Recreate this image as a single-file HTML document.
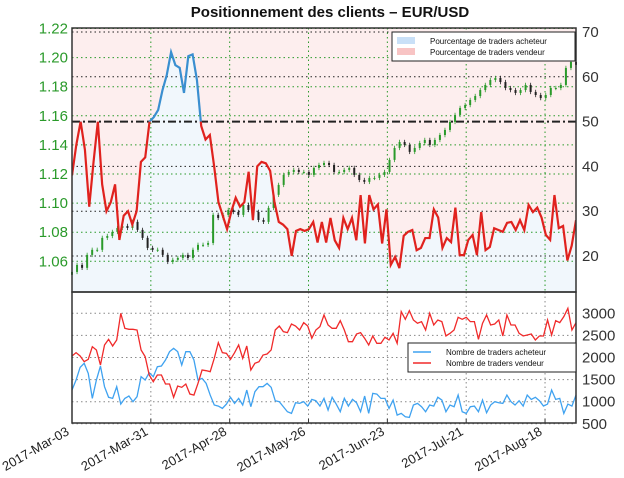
<!DOCTYPE html>
<html><head><meta charset="utf-8"><style>
body{margin:0;background:#fff;}
svg{display:block;font-family:"Liberation Sans",sans-serif;}
</style></head><body>
<svg id="c" width="624" height="478" viewBox="0 0 624 478"></svg>
<script>
const dateTicks=["2017-Mar-03","2017-Mar-31","2017-Apr-28","2017-May-26","2017-Jun-23","2017-Jul-21","2017-Aug-18"];
const tickDays=[0,28,56,84,112,140,168];
const priceTicks=[1.06,1.08,1.10,1.12,1.14,1.16,1.18,1.20,1.22];
const pctTicks=[20,30,40,50,60,70];
const countTicks=[500,1000,1500,2000,2500,3000];
const sentiment=[38,44.8,50,43.7,31,41,50,36,30,32,36,23.6,29,30,27,30,41,42,50,51,52.6,57,60.4,65.5,62.6,62,56.4,64.6,65,59.3,49,46,47,40,32,29,26,30,33,31,32,38.8,28,40,41,40.7,39,32,27.6,27,26,20,25.6,26,25.6,26,27.6,23,27.6,23,28.5,23.5,21.8,28.5,26,28.5,23.5,33.6,22.8,33.6,30.4,31.5,22.8,30.4,18,19.8,17.3,24.5,25.4,25.8,21.3,21.8,24,24,30.4,28.6,21.8,24,23.1,30.8,20.2,20.2,23.6,24.7,20.2,29.8,21.3,22,26.2,25.8,25.4,27.4,27.6,25.8,28,25.8,31.4,29.8,30.8,28.6,24.7,23.6,33.6,26.2,26.7,19,22.3,28];
const closes=[1.0527,1.0575,1.0555,1.0644,1.0679,1.0679,1.0761,1.0774,1.0802,1.0829,1.0843,1.0829,1.0871,1.0816,1.0761,1.0692,1.0679,1.0679,1.0644,1.0596,1.0610,1.0623,1.0644,1.0623,1.0679,1.0713,1.0713,1.0726,1.0919,1.0898,1.0919,1.0953,1.0939,1.0919,1.0987,1.0953,1.0939,1.0884,1.0871,1.0967,1.1057,1.1125,1.1194,1.1214,1.1228,1.1214,1.1214,1.1194,1.1242,1.1262,1.1276,1.1262,1.1214,1.1214,1.1228,1.1242,1.1194,1.1159,1.1146,1.1173,1.1173,1.1194,1.1214,1.1297,1.1379,1.1420,1.1400,1.1352,1.1379,1.1413,1.1434,1.1400,1.1434,1.1468,1.1503,1.1558,1.1606,1.1654,1.1674,1.1709,1.1736,1.1777,1.1812,1.1846,1.1860,1.1832,1.1791,1.1777,1.1757,1.1777,1.1812,1.1764,1.1743,1.1722,1.1743,1.1791,1.1791,1.1812,1.1929,1.1970,1.1950];
const longCount=[1264,1490,1777,1868,1640,1075,1490,1807,1340,1100,1075,1340,946,1075,1128,1000,1113,1566,1490,1656,1566,1792,1807,1943,2132,2207,2132,1830,2132,2132,1943,1490,1528,1415,1150,925,901,849,946,1100,962,1075,925,1264,886,1226,1340,1340,1415,1325,1022,1000,886,773,735,977,962,1000,901,1052,1022,901,1075,811,1100,946,773,1075,901,1052,977,773,1128,735,1188,1173,1075,1075,849,1037,697,735,660,645,925,962,886,773,925,901,1100,1037,773,925,886,1150,773,735,886,901,773,1037,750,925,1000,977,962,1150,1000,925,1022,901,1150,1052,1100,1022,901,946,1264,1052,1075,735,946,901,1150];
const shortCount=[2034,2109,2034,1905,1958,2245,2170,1830,2283,2411,2260,2396,3000,2660,2638,2638,2622,2170,2019,1604,1452,1604,1604,1400,1400,1100,1354,1325,1400,1173,1150,1415,1717,1702,1679,1981,2336,2109,2094,1958,2109,2283,1981,2260,1717,1868,1905,2056,2079,2170,2622,2713,2585,2562,2758,2713,2622,2789,2713,2434,2622,2698,2962,2736,2660,2660,2834,2622,2358,2358,2532,2562,2434,2283,2487,2321,2321,2457,2396,2547,2321,3038,2864,3060,2849,2774,2811,2622,3000,2736,2849,2811,2487,2547,2622,2909,2864,2909,2811,2811,2411,2774,2962,2736,2758,2849,2487,2962,2736,2736,2547,2487,2509,2532,2396,2487,2487,2849,2509,2834,2789,2925,3113,2622,2789];

const NS="http://www.w3.org/2000/svg";
const svg=document.getElementById('c');
function mk(t,a,p){const e=document.createElementNS(NS,t);for(const k in a)e.setAttribute(k,a[k]);(p||svg).appendChild(e);return e;}
const L=72,R=576,T1=28,B1=292,T2=292,B2=423,DAYS=179;
const xd=d=>L+(R-L)*d/DAYS;
const yP=p=>28.5+(1.22-p)/0.02*29.1;
const yS=v=>256-(v-20)*4.48;
const yC=v=>423.8-(v-500)/500*22.1;
const xi=(i,n)=>xd(i*DAYS/(n-1));

mk('rect',{x:L,y:T1,width:R-L,height:B1-T1,fill:'#fdeeee'});
mk('rect',{x:L,y:T2,width:R-L,height:B2-T2,fill:'#fff'});
let sp=sentiment.map((v,i)=>[xi(i,sentiment.length),yS(v)]);
const fillB=mk('path',{d:'M'+sp.map(p=>p.join(',')).join('L')+`L${R},${B1}L${L},${B1}Z`,fill:'#f1f7fc'});



const g=mk('g',{});


priceTicks.forEach(p=>{if(yP(p)>T1)mk('line',{x1:L,x2:R,y1:yP(p),y2:yP(p),stroke:'#2a9a2a','stroke-dasharray':'1.5,3','stroke-width':1},g);});
pctTicks.forEach(v=>{mk('line',{x1:L,x2:R,y1:yS(v),y2:yS(v),stroke:'#222','stroke-dasharray':v==50?'8,3,2,3':'1.5,3','stroke-width':v==50?2:1},g);});
tickDays.forEach(d=>{mk('line',{x1:xd(d),x2:xd(d),y1:T1,y2:B1,stroke:'#2a9a2a','stroke-dasharray':'1.5,3'},g);
 mk('line',{x1:xd(d),x2:xd(d),y1:T2,y2:B2,stroke:'#888','stroke-dasharray':'1.5,3'},g);});
countTicks.forEach(v=>{mk('line',{x1:L,x2:R,y1:yC(v),y2:yC(v),stroke:'#888','stroke-dasharray':'1.5,3'},g);});

const cg=mk('g',{});


closes.forEach((c,i)=>{const o=i?closes[i-1]:c-0.002;const x=xi(i,closes.length);const up=c>=o;const col=up?'#2a9a2a':'#222';
 const hi=Math.max(o,c)+0.0015,lo=Math.min(o,c)-0.0015;
 mk('line',{x1:x,x2:x,y1:yP(hi),y2:yP(lo),stroke:col,'stroke-width':0.8},cg);
 const yt=yP(Math.max(o,c)),yb=yP(Math.min(o,c));
 const r=mk('rect',{x:x-1,y:yt,width:2,height:Math.max(1,yb-yt),fill:col},cg);
 
 });

const defs=mk('defs',{});
const c1=mk('clipPath',{id:'above'},defs);mk('rect',{x:L,y:T1,width:R-L,height:yS(50)-T1},c1);
const c2=mk('clipPath',{id:'below'},defs);mk('rect',{x:L,y:yS(50),width:R-L,height:B1-yS(50)},c2);
const dline='M'+sp.map(p=>p.join(',')).join('L');
const lb=mk('path',{d:dline,fill:'none',stroke:'#3a8fd0','stroke-width':2.2,'clip-path':'url(#above)'});


const lr=mk('path',{d:dline,fill:'none',stroke:'#e0221e','stroke-width':2.2,'clip-path':'url(#below)'});



const pl=a=>'M'+a.map((v,i)=>xi(i,a.length)+','+yC(v)).join('L');
const bl=mk('path',{d:pl(longCount),fill:'none',stroke:'#3fa2f0','stroke-width':1.3});


const rl=mk('path',{d:pl(shortCount),fill:'none',stroke:'#f02a2a','stroke-width':1.3});



mk('rect',{x:L,y:T1,width:R-L,height:B1-T1,fill:'none',stroke:'#333','stroke-width':1.5});
mk('rect',{x:L,y:T2,width:R-L,height:B2-T2,fill:'none',stroke:'#333','stroke-width':1.5});
tickDays.forEach(d=>mk('line',{x1:xd(d),x2:xd(d),y1:B2,y2:B2-4,stroke:'#333'}));

function txt(s,a,name){const e=mk('text',a);e.textContent=s;return e;}
txt('Positionnement des clients – EUR/USD',{x:330,y:17,'text-anchor':'middle','font-size':15,'font-weight':'bold',fill:'#111'},'chart-title');
priceTicks.forEach(p=>txt(p.toFixed(2),{x:68,y:yP(p)+5,'text-anchor':'end','font-size':15,fill:'#2a9a2a'},'price-tick-label'));
pctTicks.forEach(v=>txt(v,{x:582,y:yS(v)+5,'font-size':15,fill:'#333'},'percent-tick-label'));
countTicks.forEach(v=>txt(v,{x:582,y:Math.min(yC(v)+5,430),'font-size':15,fill:'#333'},'count-tick-label'));
dateTicks.forEach((s,i)=>{const x=xd(tickDays[i]);txt(s,{x:0,y:0,'text-anchor':'end','font-size':13,fill:'#222',transform:`translate(${x-2},${434}) rotate(-30)`},'date-tick-label');});

function legend(x,y,w,h,items,name){const lg=mk('g',{});
 mk('rect',{x,y,width:w,height:h,fill:'#fff',stroke:'#222','stroke-width':1},lg);
 items.forEach((it,i)=>{const yy=y+9+i*11;
  if(it.patch)mk('rect',{x:x+5,y:yy-4,width:18,height:7,fill:it.c},lg);else mk('line',{x1:x+5,x2:x+23,y1:yy,y2:yy,stroke:it.c,'stroke-width':1.5},lg);
  const t=mk('text',{x:x+38,y:yy+3,'font-size':8,fill:'#111'},lg);t.textContent=it.t;});}
legend(392,32,183,29,[{t:'Pourcentage de traders acheteur',c:'#c9e0f7',patch:1},{t:'Pourcentage de traders vendeur',c:'#f8c4c4',patch:1}],'top-legend');
legend(408,343,168,29,[{t:'Nombre de traders acheteur',c:'#3fa2f0'},{t:'Nombre de traders vendeur',c:'#f02a2a'}],'bottom-legend');
</script>
</body></html>
